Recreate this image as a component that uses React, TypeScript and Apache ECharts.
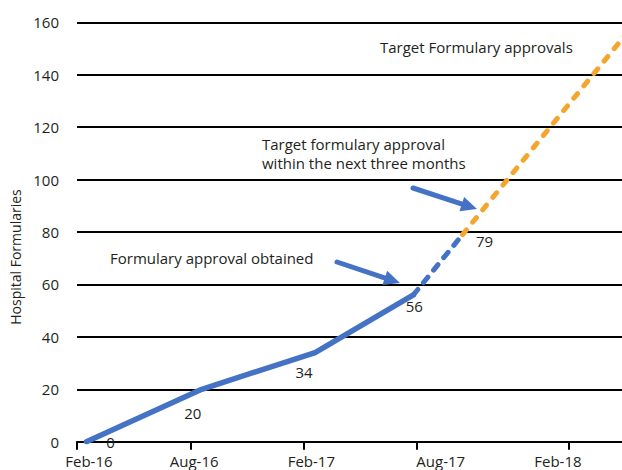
import React, { useEffect, useRef } from "react";
import * as echarts from "echarts";

// x values are months since Feb-16
const xTickMonths = [0, 6, 12, 18, 26];
const xLabelMonths = [0.63, 6.2, 12.4, 19.25, 25.45];
const xTickLabels = ["Feb-16", "Aug-16", "Feb-17", "Aug-17", "Feb-18"];

const actualMonths = [0.5, 6.6, 12.6, 17.8];
const actualValues = [0, 20, 34, 56];
const nearTermMonths = [17.8, 20.4];
const nearTermValues = [56, 79];
const targetMonths = [20.4, 29];
const targetValues = [79, 155];

const labelOffsets: Record<string, [number, number]> = {
  "0": [24, 0],
  "20": [-9, 24],
  "34": [-11, 19],
  "56": [1, 11],
  "79": [22, 6],
};

const BLUE = "#4472C4";
const ORANGE = "#F5A52C";
const TEXT = "#231F20";
const FONT = "'Open Sans', sans-serif";

function arrow(x1: number, y1: number, x2: number, y2: number) {
  const dx = x2 - x1;
  const dy = y2 - y1;
  const len = Math.sqrt(dx * dx + dy * dy);
  const ux = dx / len;
  const uy = dy / len;
  const hl = 16;
  const hw = 7.5;
  const bx = x2 - ux * hl;
  const by = y2 - uy * hl;
  const px = -uy;
  const py = ux;
  return [
    {
      type: "line",
      shape: { x1, y1, x2: bx + ux * 2, y2: by + uy * 2 },
      style: { stroke: BLUE, lineWidth: 5, lineCap: "round" },
      z: 10,
    },
    {
      type: "polygon",
      shape: {
        points: [
          [x2, y2],
          [bx + px * hw, by + py * hw],
          [bx - px * hw, by - py * hw],
        ],
      },
      style: { fill: BLUE },
      z: 10,
    },
  ];
}

function makeData(xs: number[], ys: number[], labelled: boolean[]) {
  return xs.map((x, i) => {
    const v = ys[i];
    const off = labelOffsets[String(v)];
    return {
      value: [x, v],
      label:
        labelled[i] && off
          ? {
              show: true,
              position: "inside",
              offset: off,
              formatter: String(v),
              color: TEXT,
              fontSize: 15,
              lineHeight: 14,
              fontFamily: FONT,
            }
          : { show: false },
    };
  });
}

export default function App() {
  const ref = useRef<HTMLDivElement>(null);
  useEffect(() => {
    if (!ref.current) return;
    const chart = echarts.init(ref.current, null, { renderer: "svg" });
    const label = (v: number) => {
      let best = 0;
      for (let i = 0; i < xLabelMonths.length; i++) {
        if (Math.abs(xLabelMonths[i] - v) < Math.abs(xLabelMonths[best] - v)) best = i;
      }
      return xTickLabels[best];
    };
    const textStyleBase = { fill: TEXT, fontSize: 15, fontFamily: FONT };
    chart.setOption({
      animation: false,
      backgroundColor: "#fff",
      grid: { left: 77, right: 0, top: 22.3, bottom: 28.3, containLabel: false },
      xAxis: {
        type: "value",
        min: 0,
        max: 28.84,
        axisLine: { show: true, lineStyle: { color: "#000", width: 2 } },
        axisTick: {
          show: true,
          customValues: xTickMonths,
          length: 8,
          lineStyle: { color: "#000", width: 2 },
        },
        axisLabel: {
          show: true,
          customValues: xLabelMonths,
          formatter: (v: number) => label(v),
          color: TEXT,
          fontSize: 15,
          lineHeight: 16,
          fontFamily: FONT,
          margin: 11,
          showMinLabel: true,
          showMaxLabel: true,
        },
        splitLine: { show: false },
      },
      yAxis: {
        type: "value",
        min: 0,
        max: 160,
        interval: 20,
        axisLine: { show: false },
        axisTick: { show: false },
        axisLabel: {
          color: TEXT,
          fontSize: 15,
          fontFamily: FONT,
          margin: 18,
        },
        splitLine: { show: true, lineStyle: { color: "#000", width: 2 } },
      },
      series: [
        {
          type: "line",
          data: makeData(actualMonths, actualValues, [true, true, true, true]),
          symbol: "circle",
          symbolSize: 1,
          itemStyle: { color: "rgba(0,0,0,0)" },
          lineStyle: { color: BLUE, width: 5.5, cap: "round", join: "round" },
          z: 5,
        },
        {
          type: "line",
          data: makeData(nearTermMonths, nearTermValues, [false, true]),
          symbol: "circle",
          symbolSize: 1,
          itemStyle: { color: "rgba(0,0,0,0)" },
          lineStyle: { color: BLUE, width: 5, type: [7, 9], cap: "round" },
          z: 4,
        },
        {
          type: "line",
          data: makeData(targetMonths, targetValues, [false, false]),
          symbol: "circle",
          symbolSize: 1,
          itemStyle: { color: "rgba(0,0,0,0)" },
          lineStyle: { color: ORANGE, width: 5, type: [6, 10], cap: "round" },
          z: 4,
        },
      ],
      graphic: [
        {
          type: "text",
          x: 15,
          y: 257,
          rotation: Math.PI / 2,
          style: {
            text: "Hospital Formularies",
            fill: TEXT,
            fontSize: 14,
            fontFamily: FONT,
            align: "center",
            verticalAlign: "middle",
          },
        },
        {
          type: "text",
          x: 380,
          y: 47,
          style: { ...textStyleBase, text: "Target Formulary approvals", align: "left", verticalAlign: "middle" },
        },
        {
          type: "text",
          x: 262,
          y: 144,
          style: { ...textStyleBase, text: "Target formulary approval", align: "left", verticalAlign: "middle" },
        },
        {
          type: "text",
          x: 262,
          y: 163,
          style: { ...textStyleBase, text: "within the next three months", align: "left", verticalAlign: "middle" },
        },
        {
          type: "text",
          x: 110,
          y: 258,
          style: { ...textStyleBase, text: "Formulary approval obtained", align: "left", verticalAlign: "middle" },
        },
        ...arrow(337, 262, 400, 283),
        ...arrow(413, 188, 477, 209),
      ],
    });
    return () => chart.dispose();
  }, []);
  return (
    <div
      ref={ref}
      style={{ position: "fixed", left: 0, top: 0, width: 622, height: 470, background: "#fff" }}
    />
  );
}
